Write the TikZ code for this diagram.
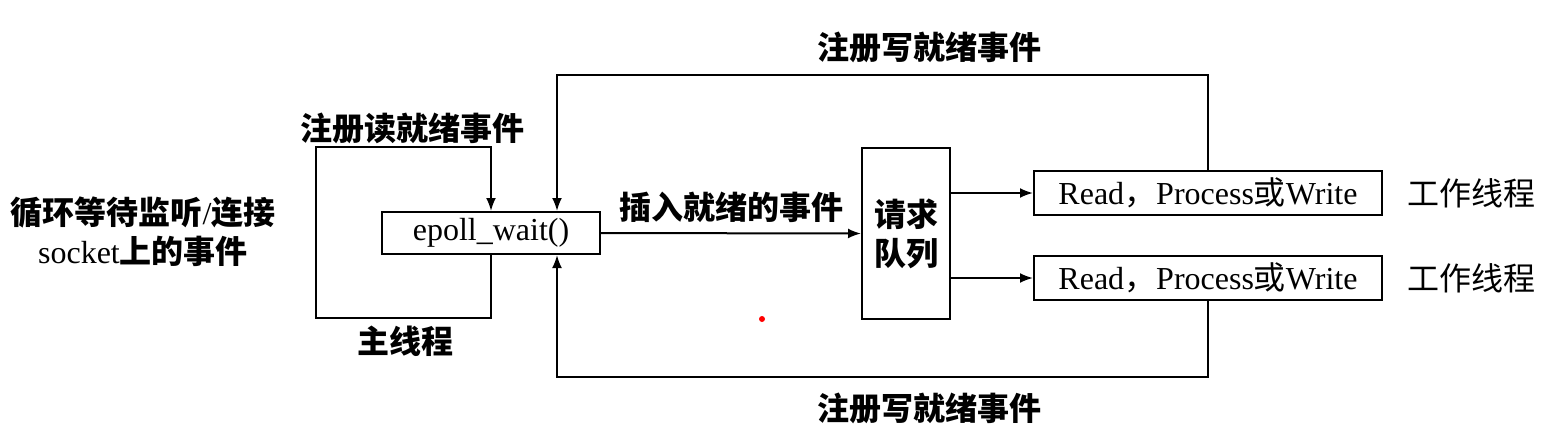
\documentclass[tikz,border=0pt]{standalone}
\usepackage{fontspec}
\setmainfont{Liberation Serif}
\newfontfamily\cjk{Noto Sans CJK SC}
\usetikzlibrary{arrows.meta}

\begin{document}
\begin{tikzpicture}[x=0.5pt,y=-0.5pt,line width=1pt,>={Latex[length=6.5pt,width=5pt]}]
  \tikzstyle{box}=[draw,rectangle,inner sep=0pt,font=\fontsize{16}{19.5}\selectfont]
  \tikzstyle{lbl}=[inner sep=0pt,align=center,font=\cjk\bfseries\fontsize{16}{19.5}\selectfont]
  \useasboundingbox (0,0) rectangle (1549,430);

  % main thread
  \node[box,minimum width=109pt,minimum height=21pt] (epoll) at (491,233) {epoll\_wait()};
  \node[lbl] (loop-txt) at (143,232) {循环等待监听{\rmfamily\mdseries /}连接\\[0pt]{\rmfamily\mdseries socket}上的事件};
  \node[lbl] (reg-read) at (412,128) {注册读就绪事件};
  \node[lbl] (main-t) at (405,341) {主线程};
  \coordinate (ml-b) at (316,318);
  \coordinate (ml-t) at (316,147);
  \draw[->] (epoll.south) |- (ml-b) -- (ml-t) -| (epoll.north);

  % request queue
  \node[box,lbl,minimum width=44pt,minimum height=85.5pt] (queue) at (906,233.5) {请求\\队列};
  \draw[->] (epoll.east) -- (queue.west) node[lbl,midway,above=5pt] (ins-txt) {插入就绪的事件};

  % worker threads
  \node[box,minimum width=174pt,minimum height=22pt] (work-a) at (1208,193) {Read{\cjk ，}Process{\cjk 或}Write};
  \node[box,minimum width=174pt,minimum height=22pt] (work-b) at (1208,278) {Read{\cjk ，}Process{\cjk 或}Write};
  \node[lbl,font=\cjk\fontsize{16}{19.5}\selectfont] (wt-a) at (1471,193) {工作线程};
  \node[lbl,font=\cjk\fontsize{16}{19.5}\selectfont] (wt-b) at (1471,278) {工作线程};
  \draw[->] (queue.east |- work-a) -- (work-a.west);
  \draw[->] (queue.east |- work-b) -- (work-b.west);

  % register write events
  \coordinate (wr-top) at (557,75);
  \coordinate (wr-bot) at (557,377);
  \draw[->] (work-a.north) |- (wr-top) -- (wr-top |- epoll.north);
  \draw[->] (work-b.south) |- (wr-bot) -- (wr-bot |- epoll.south);
  \node[lbl] (reg-wa) at (929,47) {注册写就绪事件};
  \node[lbl] (reg-wb) at (929,408) {注册写就绪事件};

  \fill[red] (762,319) circle (1.5pt);
\end{tikzpicture}
\end{document}
